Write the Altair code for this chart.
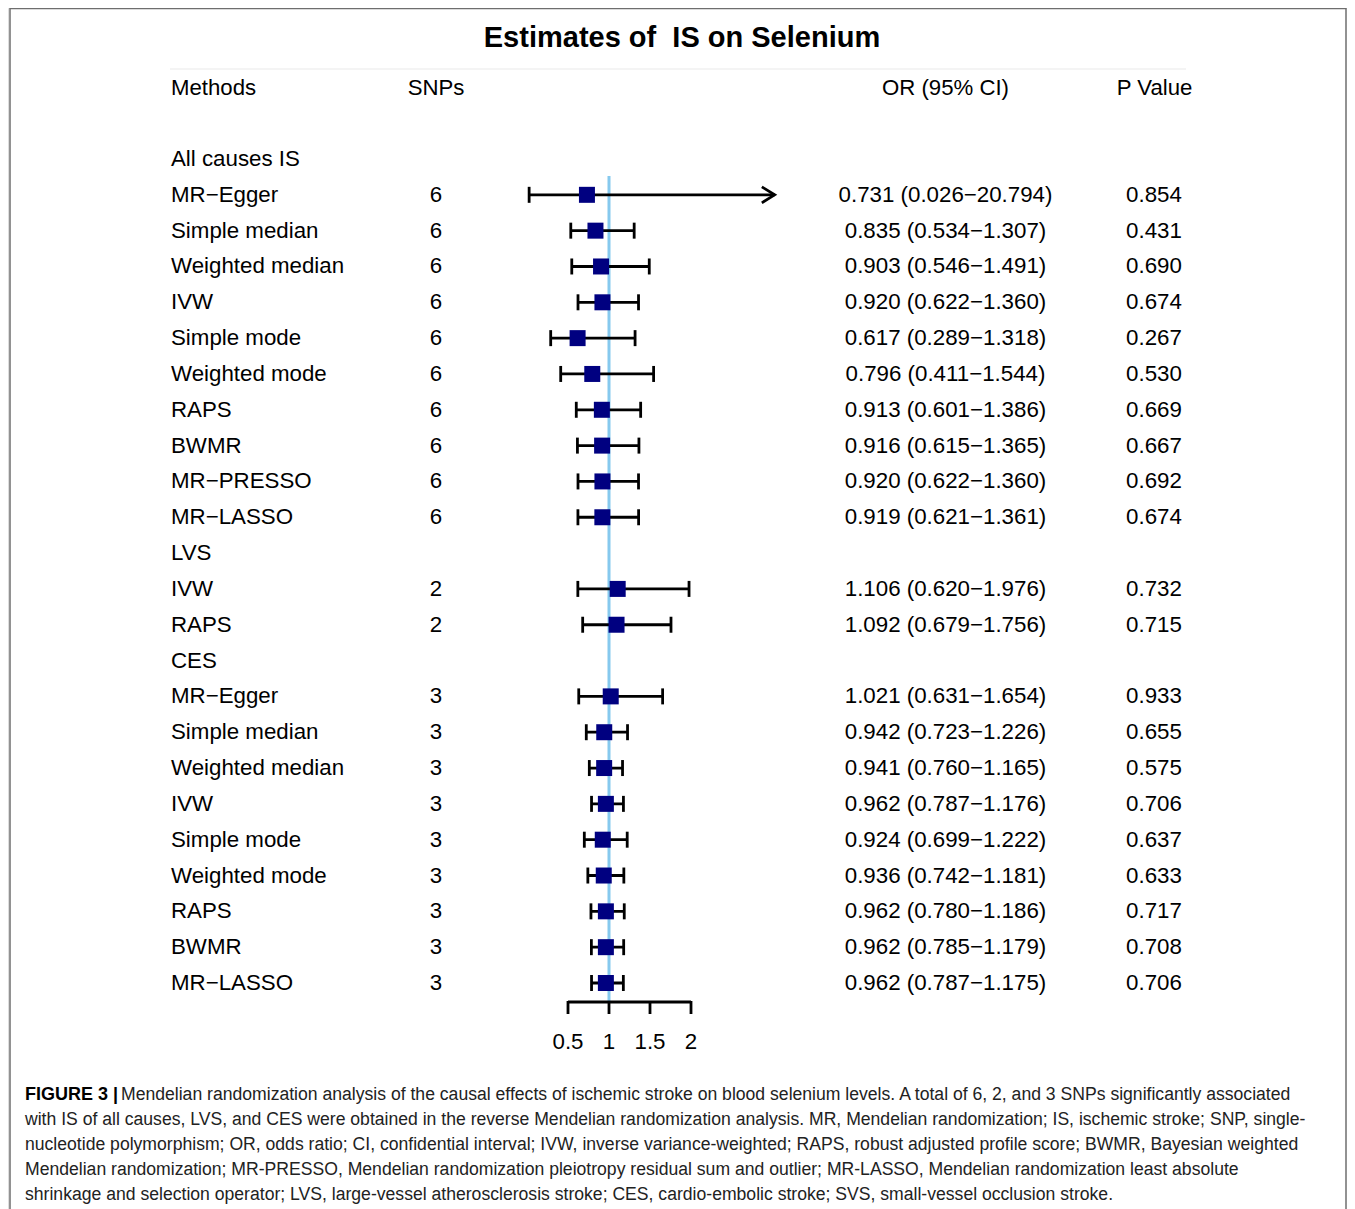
import altair as alt
import pandas as pd

# ---------------- data ----------------
groups = ["All causes IS", "LVS", "CES"]
group_methods = [
    ["MR−Egger", "Simple median", "Weighted median", "IVW", "Simple mode",
     "Weighted mode", "RAPS", "BWMR", "MR−PRESSO", "MR−LASSO"],
    ["IVW", "RAPS"],
    ["MR−Egger", "Simple median", "Weighted median", "IVW", "Simple mode",
     "Weighted mode", "RAPS", "BWMR", "MR−LASSO"],
]
group_snps = [6, 2, 3]
or_values = [
    [0.731, 0.835, 0.903, 0.920, 0.617, 0.796, 0.913, 0.916, 0.920, 0.919],
    [1.106, 1.092],
    [1.021, 0.942, 0.941, 0.962, 0.924, 0.936, 0.962, 0.962, 0.962],
]
ci_low = [
    [0.026, 0.534, 0.546, 0.622, 0.289, 0.411, 0.601, 0.615, 0.622, 0.621],
    [0.620, 0.679],
    [0.631, 0.723, 0.760, 0.787, 0.699, 0.742, 0.780, 0.785, 0.787],
]
ci_high = [
    [20.794, 1.307, 1.491, 1.360, 1.318, 1.544, 1.386, 1.365, 1.360, 1.361],
    [1.976, 1.756],
    [1.654, 1.226, 1.165, 1.176, 1.222, 1.181, 1.186, 1.179, 1.175],
]
p_values = [
    [0.854, 0.431, 0.690, 0.674, 0.267, 0.530, 0.669, 0.667, 0.692, 0.674],
    [0.732, 0.715],
    [0.933, 0.655, 0.575, 0.706, 0.637, 0.633, 0.717, 0.708, 0.706],
]
axis_ticks = [0.5, 1, 1.5, 2]
ref_value = 1
clip_high = 3.02  # upper display limit of the x axis (arrow beyond)

title_text = "Estimates of\u00a0 IS on Selenium"
headers = ["Methods", "SNPs", "OR (95% CI)", "P Value"]
caption_bold = "FIGURE 3 |"
caption_lines = [
    "Mendelian randomization analysis of the causal effects of ischemic stroke on blood selenium levels. A total of 6, 2, and 3 SNPs significantly associated",
    "with IS of all causes, LVS, and CES were obtained in the reverse Mendelian randomization analysis. MR, Mendelian randomization; IS, ischemic stroke; SNP, single-",
    "nucleotide polymorphism; OR, odds ratio; CI, confidential interval; IVW, inverse variance-weighted; RAPS, robust adjusted profile score; BWMR, Bayesian weighted",
    "Mendelian randomization; MR-PRESSO, Mendelian randomization pleiotropy residual sum and outlier; MR-LASSO, Mendelian randomization least absolute",
    "shrinkage and selection operator; LVS, large-vessel atherosclerosis stroke; CES, cardio-embolic stroke; SVS, small-vessel occlusion stroke.",
]

# ---------------- table building ----------------
label_rows = []
est_rows = []
r = 0
for g, name in enumerate(groups):
    label_rows.append({"row": r, "label": name, "snp": "", "ortext": "", "ptext": ""})
    r += 1
    for i, m in enumerate(group_methods[g]):
        o, lo, hi, p = or_values[g][i], ci_low[g][i], ci_high[g][i], p_values[g][i]
        label_rows.append({
            "row": r, "label": m, "snp": str(group_snps[g]),
            "ortext": f"{o:.3f} ({lo:.3f}−{hi:.3f})", "ptext": f"{p:.3f}",
        })
        est_rows.append({
            "row": r, "or": o, "lo": lo, "hi": hi,
            "hi_disp": min(hi, clip_high), "clipped": hi > clip_high,
        })
        r += 1

labels_df = pd.DataFrame(label_rows)
est_df = pd.DataFrame(est_rows)
caps_hi_df = est_df[~est_df["clipped"]]
arrow_df = est_df[est_df["clipped"]]
ticks_df = pd.DataFrame({"t": axis_ticks, "lab": [f"{t:g}" for t in axis_ticks]})
axis_df = pd.DataFrame({"a": [min(axis_ticks)], "b": [max(axis_ticks)]})
ref_df = pd.DataFrame({"v": [ref_value]})

# ---------------- geometry ----------------
W, H = 1339, 1201
PX_PER_UNIT = 82.0
X_AT_ONE = 601.0
x0 = 1 - X_AT_ONE / PX_PER_UNIT
xscale = alt.Scale(domain=[x0, x0 + W / PX_PER_UNIT], nice=False, zero=False)
ROW_STEP = 35.826
Y_ROW0 = 151.0
y0 = -Y_ROW0 / ROW_STEP
yscale = alt.Scale(domain=[y0, y0 + H / ROW_STEP], reverse=True, nice=False, zero=False)

FONT = "Liberation Sans, Arial, Helvetica, sans-serif"
Y = lambda f: alt.Y(f, type="quantitative", scale=yscale, axis=None)
X = lambda f: alt.X(f, type="quantitative", scale=xscale, axis=None)

layers = []

# frame (left, top, right)
frame_color = "#6e6e6e"
frame = alt.Data(values=[{"k": 0}])
layers.append(alt.Chart(frame).mark_rule(color=frame_color, strokeWidth=1.5).encode(
    x=alt.value(2), y=alt.value(0), y2=alt.value(H)))
layers.append(alt.Chart(frame).mark_rule(color=frame_color, strokeWidth=1.5).encode(
    x=alt.value(2), x2=alt.value(1338), y=alt.value(0.5)))
layers.append(alt.Chart(frame).mark_rule(color=frame_color, strokeWidth=1.5).encode(
    x=alt.value(1338), y=alt.value(0), y2=alt.value(H)))
# faint separator under title
layers.append(alt.Chart(frame).mark_rule(color="#f1f1f1", strokeWidth=1.5).encode(
    x=alt.value(162), x2=alt.value(1178), y=alt.value(61)))

# title & headers
layers.append(alt.Chart(alt.Data(values=[{"t": title_text}])).mark_text(
    font=FONT, fontSize=29, fontWeight="bold", color="black", align="center", baseline="middle"
).encode(x=alt.value(674), y=alt.value(29.5), text="t:N"))
header_pos = [(163, "left"), (428, "center"), (937.5, "center"), (1146.5, "center")]
for h, (hx, al) in zip(headers, header_pos):
    layers.append(alt.Chart(alt.Data(values=[{"t": h}])).mark_text(
        font=FONT, fontSize=22.2, color="black", align=al, baseline="middle"
    ).encode(x=alt.value(hx), y=alt.value(80), text="t:N"))

# row text columns
TS = 22.3
base_txt = alt.Chart(labels_df)
layers.append(base_txt.mark_text(font=FONT, fontSize=TS, color="black", align="left", baseline="middle")
              .encode(x=alt.value(163), y=Y("row"), text="label:N"))
layers.append(base_txt.mark_text(font=FONT, fontSize=TS, color="black", align="center", baseline="middle")
              .encode(x=alt.value(428), y=Y("row"), text="snp:N"))
layers.append(base_txt.mark_text(font=FONT, fontSize=TS, color="black", align="center", baseline="middle")
              .encode(x=alt.value(937.5), y=Y("row"), text="ortext:N"))
layers.append(base_txt.mark_text(font=FONT, fontSize=TS, color="black", align="center", baseline="middle")
              .encode(x=alt.value(1146), y=Y("row"), text="ptext:N"))

# reference line
layers.append(alt.Chart(ref_df).mark_rule(color="#86c9ee", strokeWidth=3).encode(
    x=X("v"), y=alt.value(168), y2=alt.value(994)))

# confidence intervals
SW = 2.8
base_est = alt.Chart(est_df)
layers.append(base_est.mark_rule(color="black", strokeWidth=SW).encode(
    x=X("lo"), x2="hi_disp:Q", y=Y("row")))
layers.append(base_est.mark_tick(color="black", orient="vertical", size=16, thickness=SW, opacity=1).encode(
    x=X("lo"), y=Y("row")))
layers.append(alt.Chart(caps_hi_df).mark_tick(color="black", orient="vertical", size=16, thickness=SW, opacity=1).encode(
    x=X("hi"), y=Y("row")))
layers.append(alt.Chart(arrow_df).mark_point(
    shape="M -1.6 -1 L 0 0 L -1.6 1", filled=False, size=256, strokeWidth=SW, color="black", opacity=1
).encode(x=X("hi_disp"), y=Y("row")))

# point estimates
layers.append(base_est.mark_square(color="#000080", size=256, opacity=1).encode(
    x=X("or"), y=Y("row")))

# x axis
layers.append(alt.Chart(axis_df).mark_rule(color="black", strokeWidth=SW).encode(
    x=X("a"), x2="b:Q", y=alt.value(994)))
layers.append(alt.Chart(ticks_df).mark_rule(color="black", strokeWidth=SW).encode(
    x=X("t"), y=alt.value(993), y2=alt.value(1006)))
layers.append(alt.Chart(ticks_df).mark_text(font=FONT, fontSize=TS, color="black", align="center", baseline="middle").encode(
    x=X("t"), y=alt.value(1034), text="lab:N"))

# caption
CAP_FONT = "Liberation Sans, Arial, Helvetica, sans-serif"
layers.append(alt.Chart(alt.Data(values=[{"t": caption_bold}])).mark_text(
    font=CAP_FONT, fontSize=18, fontWeight="bold", color="black", align="left", baseline="middle"
).encode(x=alt.value(17), y=alt.value(1087), text="t:N"))
for i, line in enumerate(caption_lines):
    xs = 113 if i == 0 else 17
    layers.append(alt.Chart(alt.Data(values=[{"t": line}])).mark_text(
        font=CAP_FONT, fontSize=17.6, color="#222222", align="left", baseline="middle"
    ).encode(x=alt.value(xs), y=alt.value(1087 + 25 * i), text="t:N"))

chart = alt.layer(*layers).properties(
    width=W, height=H, padding=0,
    autosize=alt.AutoSizeParams(type="none"),
).configure_view(stroke=None).configure(background="white")

chart.save("out.html", embed_options={"renderer": "svg", "actions": False})
